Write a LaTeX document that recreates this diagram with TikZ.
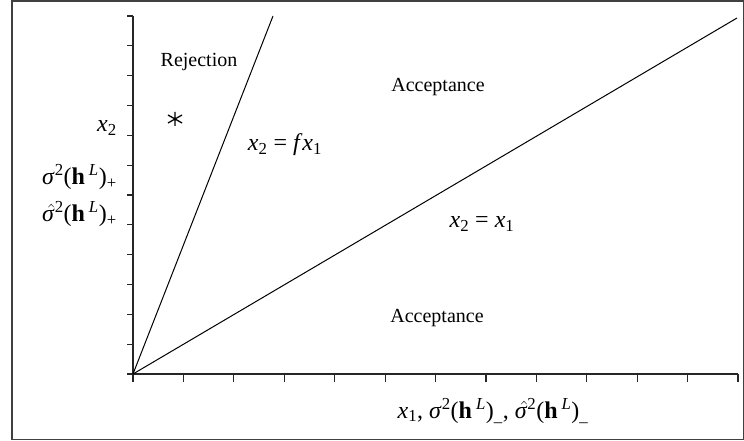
\documentclass[tikz,border=0pt]{standalone}
\usepackage{fontspec}
\setmainfont{Liberation Serif}
\newcommand{\xs}[1]{\textit{x}\textsubscript{#1}}
\newcommand{\hL}{(\textbf{h}\,\textsuperscript{\textit{L}})}
\newcommand{\sig}{\textit{σ}\textsuperscript{2}}
\newcommand{\sighat}{\makebox[0pt][l]{\hspace{0.08em}$\hat{\hphantom{\sigma}}$}\textit{σ}\textsuperscript{2}}
\begin{document}
\begin{tikzpicture}[x=1pt,y=-1pt,
  lbl/.style={inner sep=0pt,font=\fontsize{20}{23}\selectfont},
  mlbl/.style={inner sep=0pt,font=\fontsize{24}{27}\selectfont},
  axisline/.style={line width=1.3pt,black!85},
  plotline/.style={line width=1pt},
  tickmark/.style={line width=1.2pt,black!85}]
\useasboundingbox (0,0) rectangle (744,441);
\draw[line width=1.8pt,black!75] (12,1) rectangle (743.5,439.5);
% axes
\coordinate (O) at (133,374);
\coordinate (ytop) at (133,16);
\coordinate (xend) at (738,374);
\draw[axisline] (ytop) -- (O) -- (xend);
\foreach \i in {0,...,12} {
  \draw[tickmark] (127,{16+\i*29.83}) -- (133,{16+\i*29.83});
  \draw[tickmark] ({133+\i*50.42},374) -- ({133+\i*50.42},382);
}
% lines
\coordinate (fend) at (273,16);
\coordinate (eend) at (737,18);
\draw[plotline] (O) -- (fend);
\draw[plotline] (O) -- (eend);
% star
\coordinate (star) at (175,119);
\draw[line width=1.3pt] ([yshift=-7]star) -- ([yshift=7]star)
  ([shift={(-7,-4)}]star) -- ([shift={(7,4)}]star)
  ([shift={(-7,4)}]star) -- ([shift={(7,-4)}]star);
% labels
\node[lbl] (rej) at (199,62) {Rejection};
\node[lbl] (acc1) at (438,87) {Acceptance};
\node[lbl] (acc2) at (437,318) {Acceptance};
\node[mlbl] (lf) at (285,145) {\xs{2} = \textit{f}\xs{1}};
\node[mlbl] (le) at (482,224) {\xs{2} = \xs{1}};
\node[mlbl,anchor=east] (ya) at (117,128) {\xs{2}};
\node[mlbl,anchor=east] (yb) at (117,177) {\sig\hL\textsubscript{+}};
\node[mlbl,anchor=east] (yc) at (117,214) {\sighat\hL\textsubscript{+}};
\node[mlbl] (xl) at (493,411) {\xs{1}, \sig\hL\textsubscript{\_}, \sighat\hL\textsubscript{\_}};
\end{tikzpicture}
\end{document}
